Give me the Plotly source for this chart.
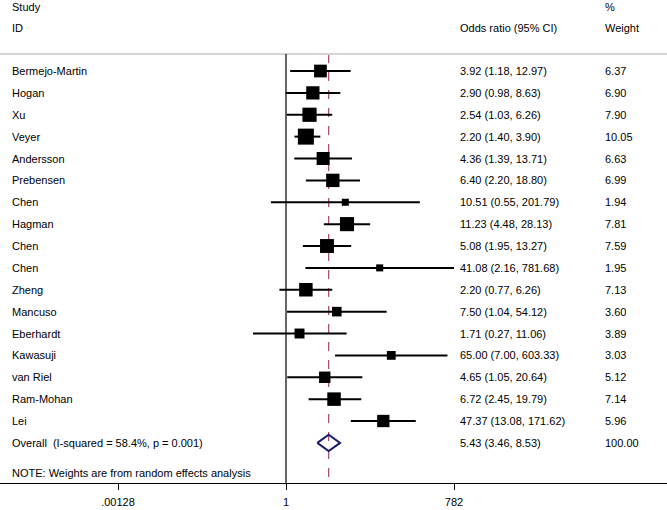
import numpy as np
import plotly.graph_objects as go

studies = ["Bermejo-Martin", "Hogan", "Xu", "Veyer", "Andersson", "Prebensen", "Chen",
           "Hagman", "Chen", "Chen", "Zheng", "Mancuso", "Eberhardt", "Kawasuji",
           "van Riel", "Ram-Mohan", "Lei"]
odds = [3.92, 2.90, 2.54, 2.20, 4.36, 6.40, 10.51, 11.23, 5.08, 41.08, 2.20, 7.50, 1.71,
        65.00, 4.65, 6.72, 47.37]
lower = [1.18, 0.98, 1.03, 1.40, 1.39, 2.20, 0.55, 4.48, 1.95, 2.16, 0.77, 1.04, 0.27,
         7.00, 1.05, 2.45, 13.08]
upper = [12.97, 8.63, 6.26, 3.90, 13.71, 18.80, 201.79, 28.13, 13.27, 781.68, 6.26, 54.12,
         11.06, 603.33, 20.64, 19.79, 171.62]
weights = [6.37, 6.90, 7.90, 10.05, 6.63, 6.99, 1.94, 7.81, 7.59, 1.95, 7.13, 3.60, 3.89,
           3.03, 5.12, 7.14, 5.96]
overall_label = "Overall  (I-squared = 58.4%, p = 0.001)"
overall_or, overall_lo, overall_hi, overall_w = 5.43, 3.46, 8.53, 100.00
tick_vals = [0.00128, 1, 782]
tick_text = [".00128", "1", "782"]

FONT = "Liberation Sans, Arial, sans-serif"
FS = 11

n = len(studies)
rows = list(range(1, n + 1))
overall_row = n + 1

fig = go.Figure()

# CI lines
for r, lo, hi in zip(rows, lower, upper):
    fig.add_trace(go.Scatter(x=[lo, hi], y=[r, r], mode="lines",
                             line=dict(color="black", width=2), hoverinfo="skip",
                             showlegend=False))

# boxes sized by weight (area proportional)
fig.add_trace(go.Scatter(x=odds, y=rows, mode="markers",
                         marker=dict(symbol="square", color="#000000", opacity=1,
                                     size=[5.05 * np.sqrt(w) for w in weights],
                                     line=dict(width=0)),
                         opacity=1, showlegend=False, hoverinfo="skip"))

# diamond
dh = 0.37
fig.add_trace(go.Scatter(x=[overall_lo, overall_or, overall_hi, overall_or, overall_lo],
                         y=[overall_row, overall_row - dh, overall_row, overall_row + dh, overall_row],
                         mode="lines", line=dict(color="#1c1c6e", width=2),
                         showlegend=False, hoverinfo="skip"))

y_top = 0.223
y_bot = 19.834

shapes = [
    dict(type="line", xref="paper", yref="y", x0=0, x1=1, y0=y_top, y1=y_top,
         line=dict(color="#d4d4d4", width=2)),
    dict(type="line", xref="x", yref="y", x0=1, x1=1, y0=y_top, y1=y_bot,
         line=dict(color="black", width=1.2)),
    dict(type="line", xref="x", yref="y", x0=overall_or, x1=overall_or, y0=y_top, y1=y_bot,
         line=dict(color="#a8436e", width=1.2, dash="dash"), layer="below"),
]

annotations = []
def txt(x, y, s):
    annotations.append(dict(xref="paper", yref="y", x=x, y=y, text=s, showarrow=False,
                            xanchor="left", yanchor="middle",
                            font=dict(family=FONT, size=FS, color="black")))

col_study = 10 / 667
col_or = 458 / 667
col_w = 603 / 667

txt(col_study, -1.92, "Study")
txt(col_study, -0.966, "ID")
txt(col_or, -0.966, "Odds ratio (95% CI)")
txt(col_w, -1.92, "%")
txt(col_w, -0.966, "Weight")

for r, s, o, lo, hi, w in zip(rows, studies, odds, lower, upper, weights):
    txt(col_study, r, s)
    txt(col_or, r, f"{o:.2f} ({lo:.2f}, {hi:.2f})")
    txt(col_w, r, f"{w:.2f}")

txt(col_study, overall_row, overall_label)
txt(col_or, overall_row, f"{overall_or:.2f} ({overall_lo:.2f}, {overall_hi:.2f})")
txt(col_w, overall_row, f"{overall_w:.2f}")
txt(col_study, 19.38, "NOTE: Weights are from random effects analysis")

fig.update_layout(
    template="none",
    width=667, height=510,
    margin=dict(l=0, r=0, t=0, b=27, pad=0, autoexpand=False),
    paper_bgcolor="white", plot_bgcolor="white",
    shapes=shapes, annotations=annotations,
    xaxis=dict(type="log", range=[-4.925, 6.561], tickvals=tick_vals, ticktext=tick_text,
               ticks="outside", ticklen=6, tickcolor="black", showgrid=False,
               ticklabelstandoff=3,
               zeroline=False, showline=True, linecolor="black", linewidth=1,
               automargin=False,
               tickfont=dict(family=FONT, size=FS, color="black"), fixedrange=True),
    yaxis=dict(range=[y_bot, -2.246], visible=False, showgrid=False, zeroline=False,
               automargin=False, fixedrange=True),
)

fig.write_html("out.html", config={"displayModeBar": False},
               post_script="document.body.style.margin='0';document.body.style.padding='0';")
